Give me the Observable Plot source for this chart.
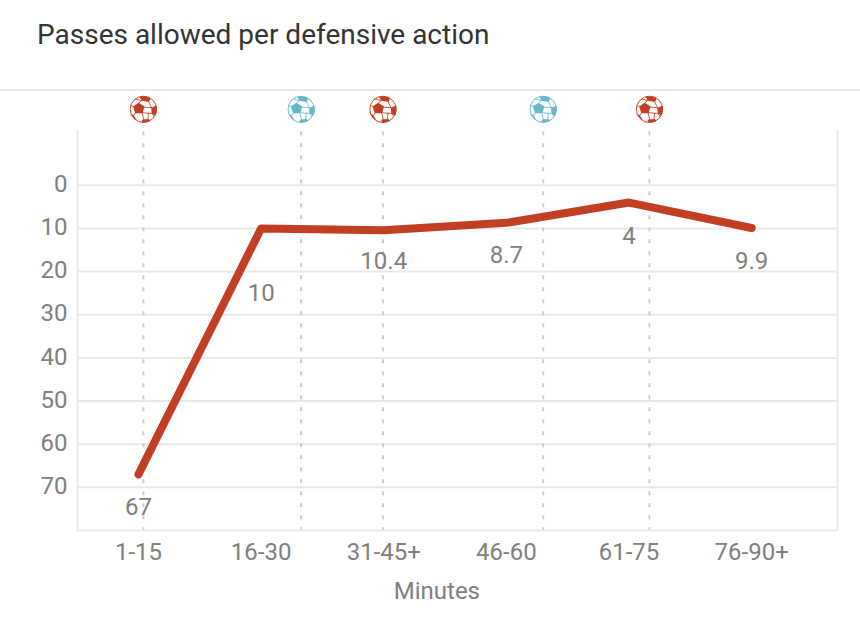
<!DOCTYPE html>
<html>
<head>
<meta charset="utf-8">
<script src="https://cdn.jsdelivr.net/npm/d3@7"></script>
<script src="https://cdn.jsdelivr.net/npm/@observablehq/plot@0.6"></script>
<style>
html,body{margin:0;padding:0;background:#fff;overflow:hidden}
#title{height:91px;box-sizing:border-box;border-bottom:2px solid #e8e8e8;padding:19px 0 0 37px;font:28px/32px Roboto,sans-serif;color:#333}
svg{display:block}
</style>
</head>
<body>
<div id="title">Passes allowed per defensive action</div>
<div id="chart"></div>
<script>
const periods = ["1-15","16-30","31-45+","46-60","61-75","76-90+"];
const periodMinutes = [8,23,38,53,68,83];
const passes = [67,10,10.4,8.7,4,9.9];
const valueLabels = ["67","10","10.4","8.7","4","9.9"];
const labelDepth = [74.7,25,17.7,16.3,11.8,17.5];
const goalMinutes = [8.6,27.9,37.9,57.5,70.5];
const goalColors = ["#c13f22","#66b8c7","#c13f22","#66b8c7","#c13f22"];
const yTicks = [0,10,20,30,40,50,60,70];
const iconDepth = -17.6;

const table = periods.map((p,i)=>({p,m:periodMinutes[i],v:passes[i],l:valueLabels[i],d:labelDepth[i]}));
const goals = goalMinutes.map((m,i)=>({m,c:goalColors[i]}));

function ball(c){
  const s = `<svg xmlns="http://www.w3.org/2000/svg" viewBox="0 0 100 100">
<circle cx="50" cy="50" r="47" fill="#fff" stroke="${c}" stroke-width="3.5"/>
<g fill="${c}">
<polygon points="33,26 54,40 47,64 21,64 13,40"/>
<path d="M36,5 Q56,0 76,10 L70,24 L44,19 Z"/>
<path d="M98,36 Q100,58 94,72 L80,66 L78,44 Z"/>
<path d="M6,66 L15,70 L26,88 Q12,82 6,66 Z"/>
<path d="M46,86 L68,84 L76,90 Q60,100 44,96 Z"/>
</g>
<g stroke="${c}" stroke-width="3" fill="none">
<path d="M44,18 L33,28 M68,22 L80,46 M47,62 L68,64 L82,64 M52,42 L80,44 M23,62 L15,72 M45,62 L52,88 M68,62 L66,86 M15,40 L5,36 M44,19 L20,12 M82,66 L88,76"/>
</g></svg>`;
  return "data:image/svg+xml;base64," + btoa(s);
}

const gray = "#808080";
const grid = "#e9e9e9";
const plot = Plot.plot({
  width: 860,
  height: 537,
  marginLeft: 77,
  marginRight: 23,
  marginTop: 39,
  marginBottom: 98,
  style: {fontFamily: "Roboto, sans-serif", fontSize: "20px", color: gray, background: "#fff"},
  x: {type: "linear", domain: [0.54, 93.5]},
  y: {domain: [80, -12.7], reverse: false},
  marks: [
    Plot.ruleY(yTicks, {stroke: grid, strokeWidth: 2, strokeOpacity: 1}),
    Plot.ruleX(goals, {x: "m", y1: iconDepth + 5.2, y2: 80, stroke: "#cccccc", strokeWidth: 2, strokeDasharray: "4 8"}),
    Plot.ruleX([0.54, 93.5], {stroke: grid, strokeWidth: 2}),
    Plot.ruleY([80], {stroke: grid, strokeWidth: 2}),
    Plot.axisY({ticks: yTicks, tickSize: 0, tickPadding: 10, label: null, fontSize: 24, fill: gray, dy: -1, tickFormat: d=>String(d)}),
    Plot.axisX({ticks: periodMinutes, tickSize: 0, tickPadding: 12, label: null, fontSize: 24, fill: gray, tickFormat: (d)=>periods[periodMinutes.indexOf(d)]}),
    Plot.line(table, {x: "m", y: "v", stroke: "#c13f22", strokeWidth: 8, strokeLinecap: "round", strokeLinejoin: "round"}),
    Plot.text(table, {x: "m", y: "d", text: "l", fill: gray, fontSize: 24}),
    Plot.image(goals, {x: "m", y: ()=>iconDepth, width: 28, height: 28, src: d=>ball(d.c)}),
    Plot.text(["Minutes"], {x: ()=>44.5, y: ()=>94, fill: gray, fontSize: 24})
  ]
});
document.getElementById("chart").append(plot);
</script>
</body>
</html>
